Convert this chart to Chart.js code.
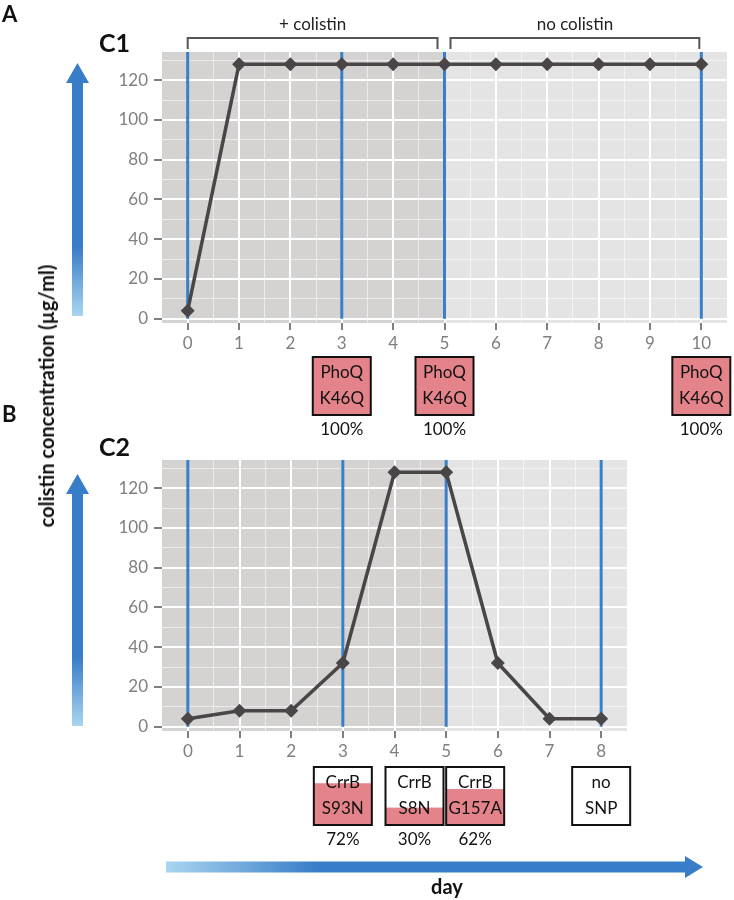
<!DOCTYPE html>
<html>
<head>
<meta charset="utf-8">
<script src="https://cdn.jsdelivr.net/npm/chart.js@4.4.1/dist/chart.umd.min.js"></script>
<style>
  html, body { margin: 0; padding: 0; background: #fff; }
  #wrap { position: relative; width: 734px; height: 900px; }
  canvas { position: absolute; left: 0; top: 0; }
  #ylab {
    position: absolute; left: 46px; top: 396px;
    transform: translate(-50%, -50%) rotate(-90deg);
    white-space: nowrap; font: bold 20px Lato, sans-serif; color: #111;
  }
</style>
</head>
<body>
<div id="wrap">
  <canvas id="c1" width="734" height="900"></canvas>
  <canvas id="c2" width="734" height="900"></canvas>
  <div id="ylab">colistin concentration (µg/ml)</div>
</div>
<script>
// ===== data =====
const daysC1 = [0, 1, 2, 3, 4, 5, 6, 7, 8, 9, 10];
const concC1 = [4, 128, 128, 128, 128, 128, 128, 128, 128, 128, 128];
const sampledC1 = [0, 3, 5, 10];

const daysC2 = [0, 1, 2, 3, 4, 5, 6, 7, 8];
const concC2 = [4, 8, 8, 32, 128, 128, 32, 4, 4];
const sampledC2 = [0, 3, 5, 8];

const yTickLabels = [0, 20, 40, 60, 80, 100, 120];

// mutations found at sampled days
const mutDaysC1 = [3, 5, 10];
const mutGeneC1 = ["PhoQ", "PhoQ", "PhoQ"];
const mutSnpC1 = ["K46Q", "K46Q", "K46Q"];
const mutPctC1 = [100, 100, 100];

const mutDaysC2 = [3, 4, 5, 8];
const mutGeneC2 = ["CrrB", "CrrB", "CrrB", "no"];
const mutSnpC2 = ["S93N", "S8N", "G157A", "SNP"];
const mutPctC2 = [72, 30, 62, null];

// treatment phases (C1)
const phaseLabels = ["+ colistin", "no colistin"];
const phaseStart = [0, 5];
const phaseEnd = [5, 10];

// ===== style =====
const Y_MIN = -2.2, Y_MAX = 134.2;
const LINE = "#4a4546";
const BLUE = "#3a7fca";
const PINK = "#e4838a";
const DARK_BG = "#d4d3d2";
const LIGHT_BG = "#e4e4e4";
const TICK_GRAY = "#7f7f7f";
const FONT = "Lato, sans-serif";

function vArrow(ctx, cx, tip, bottom, solidAt) {
  const g = ctx.createLinearGradient(0, bottom, 0, solidAt);
  g.addColorStop(0, "#a9d5f0");
  g.addColorStop(1, "#377dc8");
  ctx.fillStyle = g;
  ctx.beginPath();
  ctx.moveTo(cx - 5.5, bottom);
  ctx.lineTo(cx - 5.5, tip + 20);
  ctx.lineTo(cx - 11.5, tip + 20);
  ctx.lineTo(cx, tip);
  ctx.lineTo(cx + 11.5, tip + 20);
  ctx.lineTo(cx + 5.5, tip + 20);
  ctx.lineTo(cx + 5.5, bottom);
  ctx.closePath();
  ctx.fill();
}

function hArrow(ctx, cy, left, tip, solidAt) {
  const g = ctx.createLinearGradient(left, 0, solidAt, 0);
  g.addColorStop(0, "#a9d5f0");
  g.addColorStop(1, "#377dc8");
  ctx.fillStyle = g;
  ctx.beginPath();
  ctx.moveTo(left, cy - 5.5);
  ctx.lineTo(tip - 18, cy - 5.5);
  ctx.lineTo(tip - 18, cy - 11);
  ctx.lineTo(tip, cy);
  ctx.lineTo(tip - 18, cy + 11);
  ctx.lineTo(tip - 18, cy + 5.5);
  ctx.lineTo(left, cy + 5.5);
  ctx.closePath();
  ctx.fill();
}

function drawBox(ctx, cx, top, gene, snp, pct) {
  const w = 58, h = 58, left = cx - w / 2;
  ctx.fillStyle = "#fff";
  ctx.fillRect(left, top, w, h);
  if (pct) {
    const fh = h * pct / 100;
    ctx.fillStyle = PINK;
    ctx.fillRect(left, top + h - fh, w, fh);
  }
  ctx.strokeStyle = "#111";
  ctx.lineWidth = 2;
  ctx.strokeRect(left, top, w, h);
  ctx.fillStyle = "#111";
  ctx.font = "17px " + FONT;
  ctx.textAlign = "center";
  ctx.textBaseline = "middle";
  ctx.fillText(gene, cx, top + h / 2 - 13);
  ctx.fillText(snp, cx, top + h / 2 + 13);
  if (pct != null) ctx.fillText(pct + "%", cx, top + h + 15);
}

function boldText(ctx, txt, x, y, size, align) {
  ctx.fillStyle = "#111";
  ctx.font = "bold " + size + "px " + FONT;
  ctx.textAlign = align || "left";
  ctx.textBaseline = "middle";
  ctx.fillText(txt, x, y);
}

// background shading: dark until day 5, light afterwards
const shadePlugin = {
  id: "shade",
  beforeDraw(chart) {
    const { ctx, chartArea: a, scales: { x } } = chart;
    const split = x.getPixelForValue(5);
    ctx.save();
    ctx.fillStyle = DARK_BG;
    ctx.fillRect(a.left, a.top, split - a.left, a.bottom - a.top);
    ctx.fillStyle = LIGHT_BG;
    ctx.fillRect(split, a.top, a.right - split, a.bottom - a.top);
    ctx.restore();
  }
};

function makeChart(canvas, days, conc, sampled, xMax, padding, extra) {
  const datasets = [{
    data: days.map((d, i) => ({ x: d, y: conc[i] })),
    borderColor: LINE,
    backgroundColor: LINE,
    borderWidth: 3.5,
    pointStyle: "rectRot",
    pointRadius: 7,
    pointBorderWidth: 0,
    tension: 0,
    order: 0
  }];
  sampled.forEach(d => datasets.push({
    data: [{ x: d, y: 0 }, { x: d, y: Y_MAX }],
    borderColor: BLUE,
    borderWidth: 3,
    pointRadius: 0,
    order: 1
  }));

  const minorGrid = v => (v % 1 === 0 ? "#ffffff" : "rgba(255,255,255,0.55)");

  return new Chart(canvas, {
    type: "line",
    data: { datasets },
    options: {
      responsive: false,
      maintainAspectRatio: false,
      animation: false,
      layout: { padding },
      plugins: { legend: { display: false }, tooltip: { enabled: false } },
      scales: {
        x: {
          type: "linear",
          min: -0.5,
          max: xMax,
          afterFit: s => { s.height = 40; },
          border: { display: false },
          grid: {
            color: c => (c.tick.value < 0 || c.tick.value > xMax - 0.5) ? "transparent" : minorGrid(c.tick.value),
            lineWidth: c => (c.tick.value % 1 === 0 ? 2 : 1),
            tickColor: c => (c.tick.value % 1 === 0 && c.tick.value >= 0 && c.tick.value <= xMax - 0.5) ? TICK_GRAY : "transparent",
            tickLength: 7,
            tickWidth: 2
          },
          ticks: {
            stepSize: 0.5,
            autoSkip: false,
            maxRotation: 0,
            padding: 3,
            color: TICK_GRAY,
            font: { family: FONT, size: 17 },
            callback: v => (v % 1 === 0 && days.includes(v) ? String(v) : "")
          }
        },
        y: {
          min: Y_MIN,
          max: Y_MAX,
          afterFit: s => { s.width = 62; },
          border: { display: false },
          grid: {
            color: c => minorGrid(c.tick.value / 20),
            lineWidth: c => (c.tick.value % 20 === 0 ? 2 : 1),
            tickColor: c => (c.tick.value % 20 === 0 ? TICK_GRAY : "transparent"),
            tickLength: 8,
            tickWidth: 2
          },
          ticks: {
            stepSize: 10,
            includeBounds: false,
            autoSkip: false,
            padding: 6,
            color: TICK_GRAY,
            font: { family: FONT, size: 17 },
            callback: v => (yTickLabels.includes(v) ? String(v) : "")
          }
        }
      }
    },
    plugins: [shadePlugin, extra]
  });
}

// ===== C1 =====
const extraC1 = {
  id: "extraC1",
  afterDraw(chart) {
    const { ctx, scales: { x } } = chart;
    ctx.save();
    boldText(ctx, "A", 2, 15, 22);
    boldText(ctx, "C1", 99, 44, 25);
    boldText(ctx, "B", 2, 415, 22);
    vArrow(ctx, 77.5, 63, 316, 247);

    // phase brackets
    ctx.strokeStyle = "#555";
    ctx.lineWidth = 2;
    phaseLabels.forEach((lab, i) => {
      const l = x.getPixelForValue(phaseStart[i]) + (i === 0 ? 0 : 6);
      const r = x.getPixelForValue(phaseEnd[i]) - (i === 0 ? 7 : 2);
      ctx.beginPath();
      ctx.moveTo(l, 49); ctx.lineTo(l, 38); ctx.lineTo(r, 38); ctx.lineTo(r, 49);
      ctx.stroke();
      ctx.fillStyle = "#222";
      ctx.font = "17px " + FONT;
      ctx.textAlign = "center";
      ctx.textBaseline = "middle";
      ctx.fillText(lab, (l + r) / 2, 25);
    });

    mutDaysC1.forEach((d, i) =>
      drawBox(ctx, x.getPixelForValue(d), 357, mutGeneC1[i], mutSnpC1[i], mutPctC1[i]));
    ctx.restore();
  }
};

// ===== C2 =====
const boxNudgeC2 = [0, 20, 29, 0];
const extraC2 = {
  id: "extraC2",
  afterDraw(chart) {
    const { ctx, scales: { x } } = chart;
    ctx.save();
    boldText(ctx, "C2", 99, 448, 25);
    vArrow(ctx, 77.5, 474, 726, 657);
    mutDaysC2.forEach((d, i) =>
      drawBox(ctx, x.getPixelForValue(d) + boxNudgeC2[i], 767, mutGeneC2[i], mutSnpC2[i], mutPctC2[i]));
    hArrow(ctx, 867, 166, 703, 317);
    boldText(ctx, "day", 447, 888, 20, "center");
    ctx.restore();
  }
};

makeChart(document.getElementById("c1"), daysC1, concC1, sampledC1, 10.5,
  { left: 100, top: 52, right: 4, bottom: 537 }, extraC1);
makeChart(document.getElementById("c2"), daysC2, concC2, sampledC2, 8.5,
  { left: 100, top: 460, right: 107, bottom: 129 }, extraC2);
</script>
</body>
</html>
